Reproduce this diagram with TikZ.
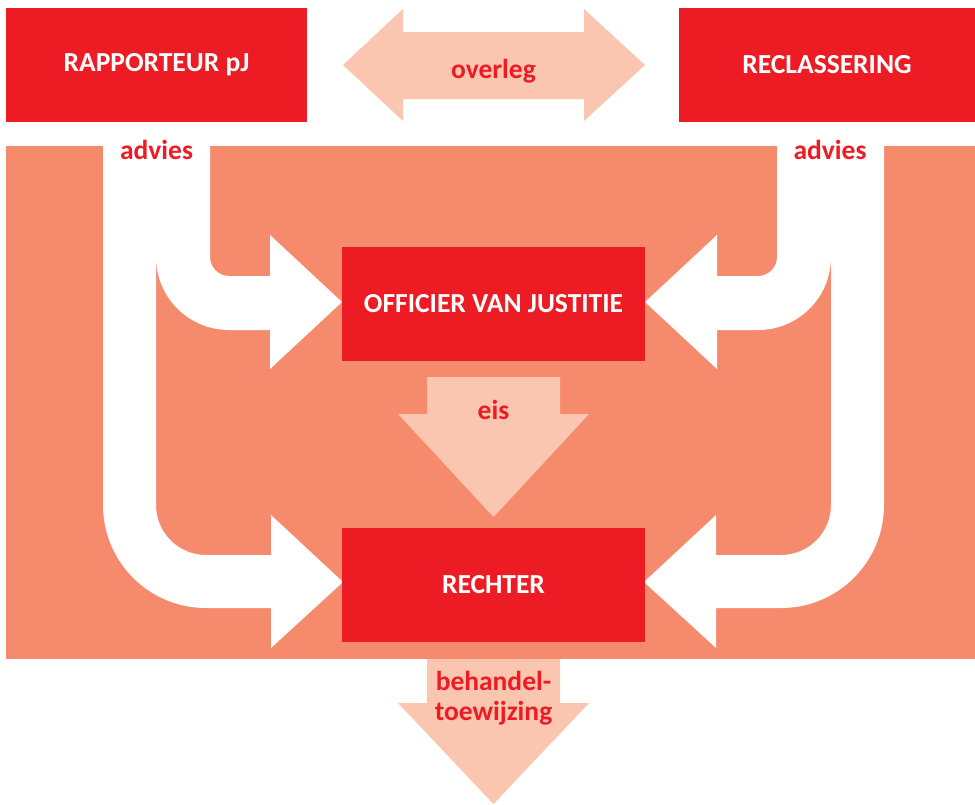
\documentclass[tikz,border=0pt]{standalone}
\usepackage{fontspec}
\setmainfont{Carlito}
\definecolor{rood}{HTML}{ED1C24}
\definecolor{zalm}{HTML}{F58B6C}
\definecolor{perzik}{HTML}{FAC6AF}
\newcommand\adviespijlen{%
  \fill[white] (103,146) -- (103,505) arc[start angle=180,end angle=90,radius=103]
    -- (271,608) -- (271,648) -- (343,582) -- (271,515) -- (271,555) -- (206,555)
    arc[start angle=90,end angle=180,radius=50] -- (156,146) -- cycle;
  \fill[white] (156,146) -- (156,257) arc[start angle=180,end angle=90,radius=73]
    -- (270,330) -- (270,369) -- (342,302) -- (270,235) -- (270,276) -- (229,276)
    arc[start angle=90,end angle=180,radius=19] -- (210,146) -- cycle;}
\begin{document}
\begin{tikzpicture}[x=1pt,y=-1pt,
  txt/.style={font=\bfseries\fontsize{27.5}{30}\selectfont,inner sep=0pt},
  box/.style={txt,fill=rood,text=white,minimum height=114pt},
  lbl/.style={txt,text=rood,anchor=base}]
\useasboundingbox (0,0) rectangle (975,804);
\fill[white] (0,0) rectangle (975,804);
% background field
\fill[zalm] (6,146) rectangle (975,659);
% advice arrows (white)
\adviespijlen
\begin{scope}[xshift=987pt,xscale=-1]
  \adviespijlen
\end{scope}
% boxes
\node[box,minimum width=301pt] (rap) at (156.5,65) {RAPPORTEUR pJ};
\node[box,minimum width=296pt] (recl) at (827,65) {RECLASSERING};
\node[box,minimum width=303pt] (ovj) at (493.5,304) {OFFICIER VAN JUSTITIE};
\node[box,minimum width=303pt] (rechter) at (493.5,585) {RECHTER};
% overleg double arrow
\fill[perzik] (343,65) -- (403,9) -- (403,32) -- (584,32) -- (584,9) -- (645,65)
  -- (584,121) -- (584,99) -- (403,99) -- (403,121) -- cycle;
% eis arrow
\fill[perzik] (427,377) -- (560,377) -- (560,414) -- (589,414) -- (493.5,517)
  -- (398,414) -- (427,414) -- cycle;
% behandeltoewijzing arrow
\fill[perzik] (427,659) -- (560,659) -- (560,703) -- (589,703) -- (493.5,804)
  -- (398,703) -- (427,703) -- cycle;
% labels
\node[lbl] (overleg) at (493.5,78) {overleg};
\node[lbl] (advL) at (156.5,159) {advies};
\node[lbl] (advR) at (830,159) {advies};
\node[lbl] (eis) at (493.5,419) {eis};
\node[lbl] (beh) at (493.5,690) {behandel-};
\node[lbl] (toew) at (493.5,720) {toewijzing};
\end{tikzpicture}
\end{document}
